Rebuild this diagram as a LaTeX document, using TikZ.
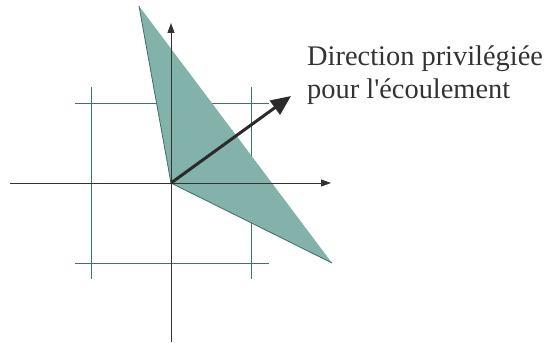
\documentclass[tikz,border=0pt]{standalone}
\usepackage{fontspec}
\setmainfont{Liberation Serif}
\newfontfamily\plainserif{Liberation Serif}[Ligatures=TeXOff]
\usetikzlibrary{arrows.meta}
\definecolor{cfill}{HTML}{82B2A9}
\definecolor{cedge}{HTML}{3E6E66}
\definecolor{cgrid}{HTML}{41716C}
\definecolor{caxis}{HTML}{333333}
\tikzset{
  every picture/.style={x=1pt, y=-1pt},
  axis/.style={caxis, line width=0.9pt, -{Triangle[length=10pt,width=7pt]}},
  gridline/.style={cgrid, line width=0.9pt},
  flow/.style={caxis!85!black, line width=3pt, -{Triangle[length=20pt,width=17pt]}},
  lbl/.style={font=\plainserif\fontsize{28.4}{32}\selectfont, anchor=base west, inner sep=0pt, text=caxis},
}
\begin{document}
\begin{tikzpicture}
  \path[use as bounding box] (0,0) rectangle (553,342);
  % points of the cone
  \coordinate (O) at (171,183);
  \coordinate (A) at (139,6);
  \coordinate (B) at (332,263);
  \coordinate (xl) at (10,183);
  \coordinate (xr) at (331,183);
  \coordinate (yb) at (171,342);
  \coordinate (yt) at (171,23);
  \coordinate (tip) at (291,96);
  % grid
  \foreach \y in {103,263} \draw[gridline] (75,\y) -- (269,\y);
  \foreach \x in {91,251} \draw[gridline] (\x,87) -- (\x,279);
  % cone
  \fill[cfill] (A) -- (O) -- (B) -- cycle;
  \draw[cedge, line width=0.8pt] (A) -- (O) -- (B);
  % axes and direction
  \draw[axis] (xl) -- (xr);
  \draw[axis] (yb) -- (yt);
  \draw[flow] (O) -- (tip);
  \node[lbl] (dir1) at (307,66) {Direction privilégiée};
  \node[lbl] (dir2) at (307,99) {pour l'écoulement};
\end{tikzpicture}
\end{document}
